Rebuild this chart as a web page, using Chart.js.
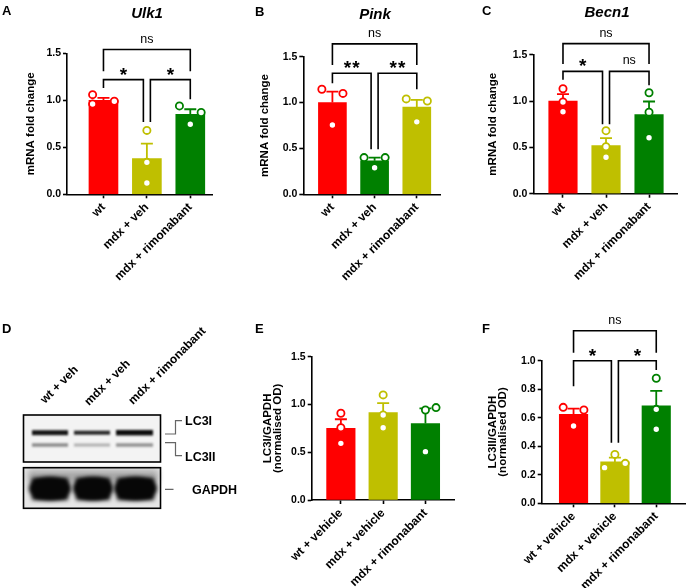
<!DOCTYPE html>
<html>
<head>
<meta charset="utf-8">
<script src="https://cdn.jsdelivr.net/npm/chart.js@4.4.1/dist/chart.umd.min.js"></script>
<style>
body { margin: 0; background: #fff; }
#fig { position: relative; width: 691px; height: 588px; overflow: hidden; font-family: 'Liberation Sans', Arial, sans-serif; }
canvas { position: absolute; }
.lbl { position: absolute; font-weight: bold; color: #000; white-space: nowrap; line-height: 1; }
.gene { position: absolute; width: 100px; text-align: center; font-weight: bold; font-style: italic; font-size: 15px; line-height: 1; }
</style>
</head>
<body>
<div id="fig">
  <canvas id="cD" width="260" height="298" style="left:0;top:290px"></canvas>
  <canvas id="cA" width="230" height="290" style="left:0;top:0"></canvas>
  <canvas id="cB" width="230" height="290" style="left:230px;top:0"></canvas>
  <canvas id="cC" width="231" height="290" style="left:460px;top:0"></canvas>
  <canvas id="cE" width="230" height="298" style="left:230px;top:290px"></canvas>
  <canvas id="cF" width="231" height="298" style="left:460px;top:290px"></canvas>

  <div class="lbl" style="left:2px;top:4px;font-size:13px">A</div>
  <div class="lbl" style="left:255px;top:5px;font-size:13px">B</div>
  <div class="lbl" style="left:482px;top:4px;font-size:13px">C</div>
  <div class="lbl" style="left:2px;top:322px;font-size:13px">D</div>
  <div class="lbl" style="left:255px;top:322px;font-size:13px">E</div>
  <div class="lbl" style="left:482px;top:322px;font-size:13px">F</div>

  <div class="gene" style="left:97px;top:5px">Ulk1</div>
  <div class="gene" style="left:325px;top:6px">Pink</div>
  <div class="gene" style="left:557px;top:4px">Becn1</div>
</div>
<script>
// groups
const groupsMrna = ['wt', 'mdx + veh', 'mdx + rimonabant']
const groupsOd = ['wt + vehicle', 'mdx + vehicle', 'mdx + rimonabant']
const blotLanes = ['wt + veh', 'mdx + veh', 'mdx + rimonabant']

// A - Ulk1
const ulk1Mean = [1.00, 0.38, 0.85]
const ulk1Sem = [0.025, 0.16, 0.055]
const ulk1Pts = [[1.06, 0.99, 0.96], [0.68, 0.34, 0.12], [0.94, 0.87, 0.745]]
const ulk1Sig = [[1, 3, 1.54, 1.31, 1.31, 'ns'], [1, 2, 1.22, 1.13, 0.77, '*'], [2, 3, 1.22, 0.77, 1.01, '*']]

// B - Pink
const pinkMean = [1.00, 0.365, 0.95]
const pinkSem = [0.12, 0.035, 0.08]
const pinkPts = [[1.145, 1.10, 0.756], [0.40, 0.40, 0.29], [1.04, 1.017, 0.79]]
const pinkSig = [[1, 3, 1.64, 1.41, 1.41, 'ns'], [1, 2, 1.32, 1.21, 0.49, '**'], [2, 3, 1.32, 0.49, 1.145, '**']]

// C - Becn1
const becn1Mean = [1.00, 0.52, 0.855]
const becn1Sem = [0.075, 0.08, 0.14]
const becn1Pts = [[1.133, 0.99, 0.885], [0.68, 0.507, 0.393], [1.09, 0.88, 0.604]]
const becn1Sig = [[1, 3, 1.62, 1.40, 1.40, 'ns'], [1, 2, 1.32, 1.23, 0.75, '*'], [2, 3, 1.32, 0.75, 1.17, 'ns']]

// E - LC3I/GAPDH
const lc3iMean = [0.75, 0.915, 0.80]
const lc3iSem = [0.095, 0.10, 0.16]
const lc3iPts = [[0.908, 0.757, 0.593], [1.10, 0.89, 0.757], [0.942, 0.967, 0.506]]

// F - LC3II/GAPDH
const lc3iiMean = [0.624, 0.29, 0.684]
const lc3iiSem = [0.04, 0.03, 0.105]
const lc3iiPts = [[0.673, 0.654, 0.542], [0.343, 0.28, 0.25], [0.877, 0.659, 0.519]]
const lc3iiSig = [[1, 3, 1.21, 1.056, 1.056, 'ns'], [1, 2, 1.0, 0.82, 0.425, '*'], [2, 3, 1.0, 0.425, 0.935, '*']]

const red = '#ff0000'
const olive = '#bfbf00'
const green = '#008000'

Chart.defaults.font.family = "'Liberation Sans', Arial, sans-serif"
Chart.defaults.color = '#000'

function panel(id, o) {
    const bars = o.mean.map((m, i) => ({ x: i + 1, y: m }))
    const pts = []
    const ptCol = []
    o.pts.forEach((g, i) => g.forEach((v, j) => {
        pts.push({ x: i + 1 + o.jit[i][j] * 0.25, y: v })
        ptCol.push(o.colors[i])
    }))

    //error bars, upper only
    const errBars = {
        id: 'errBars',
        afterDatasetDraw(chart, args) {
            if (args.index !== 0) return
            const ctx = chart.ctx
            const xs = chart.scales.x, ys = chart.scales.y
            ctx.save()
            ctx.lineWidth = 1.8
            o.mean.forEach((m, i) => {
                const x = xs.getPixelForValue(i + 1)
                const y0 = ys.getPixelForValue(m)
                const y1 = ys.getPixelForValue(m + o.sem[i])
                ctx.strokeStyle = o.colors[i]
                ctx.beginPath()
                ctx.moveTo(x, y0); ctx.lineTo(x, y1)
                ctx.moveTo(x - 6, y1); ctx.lineTo(x + 6, y1)
                ctx.stroke()
            })
            ctx.restore()
        }
    }

    //significance brackets
    const brackets = {
        id: 'brackets',
        afterDraw(chart) {
            if (!o.sig) return
            const ctx = chart.ctx
            const xs = chart.scales.x, ys = chart.scales.y
            ctx.save()
            ctx.strokeStyle = '#000'
            ctx.fillStyle = '#000'
            ctx.lineWidth = 1.6
            ctx.textAlign = 'center'
            o.sig.forEach(s => {
                const x1 = xs.getPixelForValue(s[0]) + (s[0] === 2 ? 3.5 : 0)
                const x2 = xs.getPixelForValue(s[1]) - (s[1] === 2 ? 3.5 : 0)
                const y = ys.getPixelForValue(s[2])
                const mid = (x1 + x2) / 2
                ctx.beginPath()
                ctx.moveTo(x1, ys.getPixelForValue(s[3]))
                ctx.lineTo(x1, y)
                ctx.lineTo(x2, y)
                ctx.lineTo(x2, ys.getPixelForValue(s[4]))
                ctx.stroke()
                if (s[5] === 'ns') {
                    ctx.font = "12.5px 'Liberation Sans', Arial, sans-serif"
                    ctx.fillText('ns', mid, y - 7)
                } else {
                    ctx.font = "bold 19px 'Liberation Sans', Arial, sans-serif"
                    const n = s[5].length
                    for (let k = 0; k < n; k++) {
                        ctx.fillText('*', mid + (k - (n - 1) / 2) * 8.5, y + 1)
                    }
                }
            })
            ctx.restore()
        }
    }

    const titleFont = { size: 11.5, weight: 'bold', lineHeight: o.multi ? 0.85 : 1.2 }
    const lh = titleFont.size * titleFont.lineHeight

    new Chart(document.getElementById(id), {
        type: 'bar',
        data: {
            datasets: [
                { data: bars, backgroundColor: o.colors, barThickness: o.barW, order: 2 },
                {
                    type: 'scatter', data: pts, order: 1,
                    pointRadius: 3.6, pointBorderWidth: 1.8,
                    pointBackgroundColor: '#fff', pointBorderColor: ptCol
                }
            ]
        },
        options: {
            responsive: false,
            animation: false,
            layout: { padding: { left: 0, top: o.padTop, right: o.padRight, bottom: 0 } },
            plugins: { legend: { display: false }, tooltip: { enabled: false } },
            scales: {
                x: {
                    type: 'linear', min: o.xMin, max: o.xMax, offset: false,
                    afterBuildTicks: s => { s.ticks = [1, 2, 3].map(v => ({ value: v })) },
                    afterFit: s => { s.height = o.xh },
                    ticks: {
                        callback: v => o.groups[v - 1], autoSkip: false,
                        minRotation: 45, maxRotation: 45, padding: 2,
                        font: { size: 12, weight: 'bold' }, color: '#000'
                    },
                    grid: { drawOnChartArea: false, offset: false, tickLength: 4, tickColor: '#000', tickWidth: 1.6 },
                    border: { color: '#000', width: 1.6 }
                },
                y: {
                    min: 0, max: o.yMax,
                    afterFit: s => { s.width = o.yw },
                    ticks: {
                        stepSize: o.step, padding: 2,
                        callback: v => v.toFixed(1),
                        font: { size: 10.5, weight: 'bold' }, color: '#000'
                    },
                    grid: { drawOnChartArea: false, tickLength: 4, tickColor: '#000', tickWidth: 1.6 },
                    border: { color: '#000', width: 1.6 },
                    title: {
                        display: true, text: o.yTitle, color: '#000', font: titleFont,
                        padding: { top: o.titleX - lh / 2, bottom: 0 }
                    }
                }
            }
        },
        plugins: [errBars, brackets]
    })
}

panel('cA', {
    mean: ulk1Mean, sem: ulk1Sem, pts: ulk1Pts, sig: ulk1Sig, groups: groupsMrna,
    jit: [[-1, 1, -1], [0, 0, 0], [-1, 1, 0]], colors: [red, olive, green],
    yTitle: 'mRNA fold change', yMax: 1.5, step: 0.5,
    yw: 67, padTop: 53.3, padRight: 18, xh: 95.7, xMin: 0.16, xMax: 3.5, barW: 29, titleX: 31
})
panel('cB', {
    mean: pinkMean, sem: pinkSem, pts: pinkPts, sig: pinkSig, groups: groupsMrna,
    jit: [[-1, 1, 0], [-1, 1, 0], [-1, 1, 0]], colors: [red, green, olive],
    yTitle: 'mRNA fold change', yMax: 1.5, step: 0.5,
    yw: 73.3, padTop: 56.7, padRight: 20, xh: 95.7, xMin: 0.31, xMax: 3.55, barW: 28, titleX: 35
})
panel('cC', {
    mean: becn1Mean, sem: becn1Sem, pts: becn1Pts, sig: becn1Sig, groups: groupsMrna,
    jit: [[0, 0, 0], [0, 0, 0], [0, 0, 0]], colors: [red, olive, green],
    yTitle: 'mRNA fold change', yMax: 1.5, step: 0.5,
    yw: 73.3, padTop: 54.7, padRight: 14, xh: 96.3, xMin: 0.31, xMax: 3.65, barW: 28.5, titleX: 33.3
})
panel('cE', {
    mean: lc3iMean, sem: lc3iSem, pts: lc3iPts, sig: null, groups: groupsOd,
    jit: [[0, 0, 0], [0, 0, 0], [0, 1, 0]], colors: [red, olive, green],
    yTitle: ['LC3I/GAPDH', '(normalised OD)'], multi: true, yMax: 1.5, step: 0.5,
    yw: 81.7, padTop: 66.7, padRight: 4.4, xh: 88, xMin: 0.31, xMax: 3.68, barW: 28.5, titleX: 38
})
panel('cF', {
    mean: lc3iiMean, sem: lc3iiSem, pts: lc3iiPts, sig: lc3iiSig, groups: groupsOd,
    jit: [[-1, 1, 0], [0, 1, -1], [0, 0, 0]], colors: [red, olive, green],
    yTitle: ['LC3II/GAPDH', '(normalised OD)'], multi: true, yMax: 1.0, step: 0.2,
    yw: 81.7, padTop: 70.7, padRight: 2, xh: 84.7, xMin: 0.23, xMax: 3.7, barW: 28.5, titleX: 33.3
})

//western blot picture (panel D)
function drawBlot() {
    const ctx = document.getElementById('cD').getContext('2d')
    const lanes = [[32, 68], [74, 110], [116, 153]]

    ctx.fillStyle = '#f3f3f3'
    ctx.fillRect(24, 125, 137, 47)
    ctx.fillStyle = '#e6e6e6'
    ctx.fillRect(24, 178, 137, 40)

    ctx.filter = 'blur(1.3px)'
    const lc3i = [['#141414', 5], ['#262626', 4], ['#0c0c0c', 5.5]]
    const lc3ii = [['#8c8c8c', 3.5], ['#b0b0b0', 3], ['#929292', 3.5]]
    lanes.forEach((l, i) => {
        ctx.fillStyle = lc3i[i][0]
        ctx.fillRect(l[0], 142.7 - lc3i[i][1] / 2, l[1] - l[0], lc3i[i][1])
        ctx.fillStyle = lc3ii[i][0]
        ctx.fillRect(l[0], 155 - lc3ii[i][1] / 2, l[1] - l[0], lc3ii[i][1])
    })

    ctx.filter = 'blur(3px)'
    ctx.fillStyle = '#a8a8a8'
    ctx.fillRect(28, 180, 130, 13)
    ctx.filter = 'blur(2.2px)'
    const blobs = [[29, 71], [73, 113], [114, 157]]
    blobs.forEach(l => {
        ctx.fillStyle = '#070707'
        ctx.beginPath()
        ctx.ellipse((l[0] + l[1]) / 2, 198.5, (l[1] - l[0]) / 2, 11.5, 0, 0, Math.PI * 2)
        ctx.fill()
        ctx.fillRect(l[0] + 3, 188, l[1] - l[0] - 6, 22)
    })
    ctx.filter = 'none'

    ctx.strokeStyle = '#000'
    ctx.lineWidth = 1.6
    ctx.strokeRect(23.5, 125, 137, 47)
    ctx.strokeRect(23.5, 177.7, 137, 40.6)

    // lane labels
    ctx.fillStyle = '#000'
    ctx.font = "bold 12px 'Liberation Sans', Arial, sans-serif"
    const starts = [[45, 114], [89, 116], [133, 115]]
    blotLanes.forEach((t, i) => {
        ctx.save()
        ctx.translate(starts[i][0], starts[i][1])
        ctx.rotate(-Math.PI / 4)
        ctx.fillText(t, 0, 0)
        ctx.restore()
    })

    // marker lines
    ctx.strokeStyle = '#666'
    ctx.lineWidth = 1.2
    ctx.beginPath()
    ctx.moveTo(165, 144); ctx.lineTo(175.5, 144); ctx.lineTo(175.5, 130.7); ctx.lineTo(182, 130.7)
    ctx.moveTo(165, 152.7); ctx.lineTo(175.5, 152.7); ctx.lineTo(175.5, 165.7); ctx.lineTo(182, 165.7)
    ctx.moveTo(165, 199.3); ctx.lineTo(173.5, 199.3)
    ctx.stroke()

    ctx.font = "bold 12.5px 'Liberation Sans', Arial, sans-serif"
    ctx.fillText('LC3I', 185, 135)
    ctx.fillText('LC3II', 185, 170.5)
    ctx.fillText('GAPDH', 192, 204)
}
drawBlot()
</script>
</body>
</html>
